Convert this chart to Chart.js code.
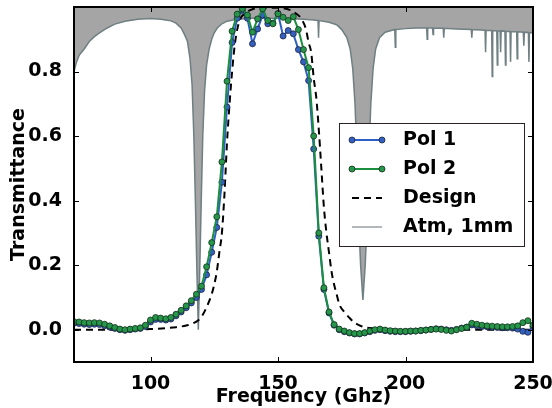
<!DOCTYPE html>
<html>
<head>
<meta charset="utf-8">
<script src="https://cdn.jsdelivr.net/npm/chart.js@4.4.1/dist/chart.umd.min.js"></script>
<style>
  html, body { margin: 0; padding: 0; background: #fff; }
  canvas { display: block; }
</style>
</head>
<body>
<canvas id="chart" width="552" height="408"></canvas>
<script>
// measured points, 2 GHz steps
const freq = [
  70, 72, 74, 76, 78, 80, 82, 84, 86, 88, 90, 92, 94, 96, 98, 100, 102, 104, 106, 108,
  110, 112, 114, 116, 118, 120, 122, 124, 126, 128, 130, 132, 134, 136, 138, 140, 142, 144, 146, 148,
  150, 152, 154, 156, 158, 160, 162, 164, 166, 168, 170, 172, 174, 176, 178, 180, 182, 184, 186, 188,
  190, 192, 194, 196, 198, 200, 202, 204, 206, 208, 210, 212, 214, 216, 218, 220, 222, 224, 226, 228,
  230, 232, 234, 236, 238, 240, 242, 244, 246, 248, 250,
];
const pol1 = [
  0.020, 0.019, 0.017, 0.016, 0.017, 0.016, 0.012, 0.008, 0.004, 0.000, -0.002, 0.000, 0.002, 0.004, 0.010, 0.024, 0.032, 0.032, 0.030, 0.033,
  0.043, 0.055, 0.068, 0.083, 0.100, 0.125, 0.170, 0.240, 0.317, 0.457, 0.690, 0.890, 0.965, 0.990, 0.965, 0.886, 0.932, 0.975, 0.948, 0.950,
  0.980, 0.910, 0.927, 0.917, 0.868, 0.830, 0.772, 0.560, 0.290, 0.125, 0.052, 0.014, 0.000, -0.006, -0.010, -0.013, -0.013, -0.010, -0.006, -0.002,
  0.000, -0.003, -0.005, -0.006, -0.006, -0.006, -0.005, -0.004, -0.003, -0.001, 0.001, 0.003, 0.002, 0.000, -0.002, 0.001, 0.005, 0.008, 0.015, 0.012,
  0.010, 0.009, 0.008, 0.007, 0.006, 0.006, 0.005, 0.002, -0.005, -0.008, 0.010,
];
const pol2 = [
  0.025, 0.024, 0.022, 0.021, 0.022, 0.021, 0.017, 0.012, 0.007, 0.002, 0.000, 0.002, 0.004, 0.006, 0.014, 0.030, 0.038, 0.036, 0.034, 0.038,
  0.048, 0.060, 0.074, 0.090, 0.110, 0.135, 0.195, 0.270, 0.350, 0.520, 0.770, 0.925, 0.978, 0.995, 0.975, 0.922, 0.963, 0.994, 0.958, 0.948,
  0.979, 0.968, 0.958, 0.970, 0.930, 0.868, 0.812, 0.600, 0.300, 0.130, 0.055, 0.016, 0.002, -0.004, -0.009, -0.012, -0.012, -0.009, -0.004, 0.000,
  0.002, -0.001, -0.003, -0.004, -0.005, -0.005, -0.004, -0.004, -0.002, -0.001, 0.001, 0.002, 0.001, -0.002, -0.004, 0.000, 0.004, 0.008, 0.020, 0.017,
  0.014, 0.012, 0.011, 0.010, 0.009, 0.009, 0.010, 0.012, 0.022, 0.028, 0.014,
];

const designFreq = [
  70, 80, 90, 100, 106, 110, 114, 116, 118, 120, 122, 124, 125, 126, 127, 128, 129, 130, 131, 132,
  133, 134, 135, 137, 140, 145, 150, 155, 157, 159, 161, 162, 163, 164, 165, 166, 167, 168, 169, 170,
  171, 172, 173, 174, 176, 178, 180, 183, 186, 190, 200, 250,
];
const designValues = [
  0.0, 0.0, 0.0, 0.002, 0.005, 0.008, 0.013, 0.018, 0.025, 0.04, 0.07, 0.11, 0.14, 0.18, 0.24, 0.30, 0.42, 0.58, 0.70, 0.80,
  0.88, 0.93, 0.96, 0.98, 0.993, 0.998, 0.998, 0.99, 0.98, 0.965, 0.93, 0.89, 0.86, 0.78, 0.72, 0.62, 0.50, 0.38, 0.30, 0.24,
  0.18, 0.14, 0.11, 0.08, 0.055, 0.037, 0.022, 0.01, 0.005, 0.002, 0.0, 0.0,
];

const atmFreq = [
  70, 71, 72, 74, 76, 78, 80, 83, 86, 90, 95, 100, 104, 106, 108, 110, 112, 113.5, 114.5, 115.5,
  116.3, 117, 117.6, 118.2, 118.75, 119.3, 119.9, 120.5, 121.2, 122, 123, 124, 125, 126.2, 128, 130, 134, 140, 150, 160,
  164, 165.7, 165.9, 166.1, 170, 173, 175, 177, 178.3, 179.3, 180.2, 180.9, 181.6, 182.4, 183.3, 184.2, 185, 185.7, 186.4, 187.3,
  188.3, 189.8, 192, 195.8, 196, 196.2, 200, 204, 208.3, 208.5, 208.7, 210.6, 210.8, 211, 214.8, 215, 215.2, 220, 225.8, 226,
  226.2, 231.2, 231.4, 231.6, 233.8, 234, 234.2, 235.8, 236, 236.2, 237.1, 237.3, 237.5, 239, 239.2, 239.4, 241, 241.2, 241.4, 243.6,
  243.8, 244, 246.2, 246.4, 246.6, 248.2, 248.4, 248.6, 250,
];
const atmValues = [
  0.80, 0.83, 0.85, 0.87, 0.893, 0.908, 0.92, 0.935, 0.947, 0.956, 0.962, 0.964, 0.962, 0.96, 0.957, 0.95, 0.935, 0.912, 0.893, 0.84,
  0.76, 0.60, 0.40, 0.18, 0.0, 0.18, 0.40, 0.60, 0.74, 0.82, 0.87, 0.90, 0.92, 0.935, 0.948, 0.956, 0.962, 0.965, 0.965, 0.962,
  0.96, 0.958, 0.905, 0.958, 0.953, 0.945, 0.93, 0.905, 0.87, 0.81, 0.70, 0.55, 0.35, 0.20, 0.092, 0.20, 0.35, 0.55, 0.70, 0.81,
  0.87, 0.905, 0.922, 0.93, 0.875, 0.93, 0.933, 0.935, 0.935, 0.90, 0.935, 0.935, 0.915, 0.935, 0.934, 0.905, 0.934, 0.932, 0.93, 0.905,
  0.93, 0.928, 0.86, 0.928, 0.927, 0.785, 0.927, 0.926, 0.82, 0.926, 0.926, 0.86, 0.926, 0.925, 0.82, 0.925, 0.924, 0.83, 0.924, 0.923,
  0.84, 0.923, 0.922, 0.88, 0.922, 0.921, 0.83, 0.921, 0.92,
];

const seriesLabels = ['Pol 1', 'Pol 2', 'Design', 'Atm, 1mm'];
const xTicks = [100, 150, 200, 250];
const yTicks = [0.0, 0.2, 0.4, 0.6, 0.8];

const FONT = { family: 'DejaVu Sans', size: 19, weight: 'bold' };
const BLUE = '#2f5fc4';
const GREEN = '#1b8f3e';

function toPoints(xs, ys) {
  return xs.map((x, i) => ({ x, y: ys[i] }));
}

// matplotlib style frame with ticks pointing inwards
const framePlugin = {
  id: 'frame',
  afterDatasetsDraw(chart) {
    const { ctx, chartArea: a, scales } = chart;
    const tick = 5;
    ctx.save();
    ctx.strokeStyle = '#000';
    ctx.lineWidth = 1;
    ctx.beginPath();
    xTicks.forEach((v) => {
      const px = Math.round(scales.x.getPixelForValue(v)) + 0.5;
      ctx.moveTo(px, a.bottom); ctx.lineTo(px, a.bottom - tick);
      ctx.moveTo(px, a.top); ctx.lineTo(px, a.top + tick);
    });
    yTicks.forEach((v) => {
      const py = Math.round(scales.y.getPixelForValue(v)) + 0.5;
      ctx.moveTo(a.left, py); ctx.lineTo(a.left + tick, py);
      ctx.moveTo(a.right, py); ctx.lineTo(a.right - tick, py);
    });
    ctx.stroke();
    ctx.lineWidth = 2;
    ctx.strokeRect(a.left, a.top, a.width, a.height);
    ctx.restore();
  },
};

const legendPlugin = {
  id: 'boxLegend',
  afterDraw(chart) {
    const { ctx, chartArea: a } = chart;
    const w = 185;
    const h = 123;
    const left = a.right - 9 - w;
    const top = a.top + (a.height - h) / 2;
    ctx.save();
    ctx.fillStyle = '#fff';
    ctx.strokeStyle = '#2a2222';
    ctx.lineWidth = 1;
    ctx.fillRect(left, top, w, h);
    ctx.strokeRect(left + 0.5, top + 0.5, w, h);

    const x0 = left + 13;
    const x1 = left + 43;
    ctx.font = `bold ${FONT.size}px "${FONT.family}"`;
    ctx.textBaseline = 'middle';
    chart.data.datasets.forEach((ds, i) => {
      const y = top + 17 + i * 29;
      ctx.save();
      ctx.strokeStyle = ds.legendColor || ds.borderColor;
      ctx.lineWidth = 2;
      ctx.setLineDash(ds.borderDash || []);
      ctx.beginPath();
      ctx.moveTo(x0, y);
      ctx.lineTo(x1, y);
      ctx.stroke();
      ctx.setLineDash([]);
      if (ds.pointRadius > 0) {
        [x0, x1].forEach((px) => {
          ctx.beginPath();
          ctx.arc(px, y, ds.pointRadius, 0, Math.PI * 2);
          ctx.fillStyle = ds.pointBackgroundColor;
          ctx.fill();
          ctx.lineWidth = ds.pointBorderWidth;
          ctx.strokeStyle = ds.pointBorderColor;
          ctx.stroke();
        });
      }
      ctx.restore();
      ctx.fillStyle = '#000';
      ctx.fillText(ds.label, left + 64, y);
    });
    ctx.restore();
  },
};

const datasets = [
  {
    label: seriesLabels[0],
    data: toPoints(freq, pol1),
    borderColor: BLUE,
    borderWidth: 2,
    pointRadius: 3,
    pointBackgroundColor: '#3461c0',
    pointBorderColor: '#1a2240',
    pointBorderWidth: 0.8,
    order: 1,
  },
  {
    label: seriesLabels[1],
    data: toPoints(freq, pol2),
    borderColor: GREEN,
    borderWidth: 2,
    pointRadius: 3,
    pointBackgroundColor: '#25964a',
    pointBorderColor: '#15301c',
    pointBorderWidth: 0.8,
    order: 0,
  },
  {
    label: seriesLabels[2],
    data: toPoints(designFreq, designValues),
    borderColor: '#000',
    borderWidth: 2,
    borderDash: [7, 5],
    pointRadius: 0,
    cubicInterpolationMode: 'monotone',
    order: 2,
  },
  {
    label: seriesLabels[3],
    data: toPoints(atmFreq, atmValues),
    borderColor: '#6f7f82',
    legendColor: '#b3b8bd',
    borderWidth: 1.5,
    pointRadius: 0,
    fill: 'end',
    backgroundColor: '#a5a5a5',
    order: 3,
  },
];

new Chart(document.getElementById('chart'), {
  type: 'line',
  data: { datasets },
  options: {
    responsive: false,
    animation: false,
    devicePixelRatio: 1,
    layout: { padding: { top: 7, right: 19, bottom: 0, left: 0 } },
    plugins: {
      legend: { display: false },
      tooltip: { enabled: false },
    },
    scales: {
      x: {
        type: 'linear',
        min: 70,
        max: 250,
        grid: { display: false },
        border: { display: false },
        afterBuildTicks: (s) => { s.ticks = xTicks.map((v) => ({ value: v })); },
        afterFit: (s) => {
          s.height = 46;
          s.paddingLeft = 0;
          s.paddingRight = 0;
        },
        ticks: { color: '#000', font: FONT, padding: 3, maxRotation: 0 },
        title: {
          display: true,
          text: 'Frequency (Ghz)',
          color: '#000',
          font: FONT,
          padding: { top: 2, bottom: 0 },
        },
      },
      y: {
        type: 'linear',
        min: -0.1,
        max: 1.0,
        grid: { display: false },
        border: { display: false },
        afterBuildTicks: (s) => { s.ticks = yTicks.map((v) => ({ value: v })); },
        afterFit: (s) => {
          s.width = 74;
          s.paddingTop = 0;
          s.paddingBottom = 0;
        },
        ticks: { color: '#000', font: FONT, padding: 4, callback: (v) => v.toFixed(1) },
        title: {
          display: true,
          text: 'Transmittance',
          color: '#000',
          font: FONT,
          padding: { top: 8, bottom: 0 },
        },
      },
    },
  },
  plugins: [framePlugin, legendPlugin],
});
</script>
</body>
</html>
